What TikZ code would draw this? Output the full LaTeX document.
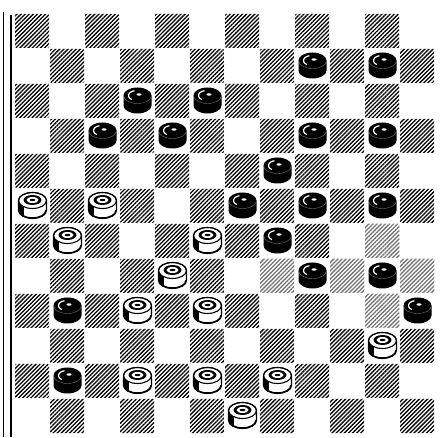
\documentclass[tikz,border=0pt]{standalone}
\usetikzlibrary{patterns.meta}
\tikzset{
    % Board
    darksq/.style  = {rounded corners=1pt, pattern={Lines[angle=45, distance=2.9pt, line width=1.3pt]}, pattern color=black},
    fadedsq/.style = {darksq, pattern color=black!55},
    rim/.style     = {draw=black, line width=1.1pt},
    % Men
    blackman/.pic = {
        \fill[black] (-14,4) -- (-14,-6) arc[start angle=180, end angle=360, x radius=14pt, y radius=8pt]
            -- (14,4) arc[start angle=0, end angle=180, x radius=14pt, y radius=8pt] -- cycle;
        \draw[black!55, line width=0.4pt] (-14,4) arc[start angle=180, end angle=360, x radius=14pt, y radius=8pt];
        \draw[white, line width=1.2pt] ([shift={(-1,4)}]105:8pt and 5pt) arc[start angle=105, end angle=235, x radius=8pt, y radius=5pt];
        \fill[white] (1.5,5) ellipse[x radius=2.5pt, y radius=1.2pt];
    },
    whiteman/.pic = {
        \filldraw[fill=white, rim] (-14,4) -- (-14,-6) arc[start angle=180, end angle=360, x radius=14pt, y radius=8pt]
            -- (14,4) arc[start angle=0, end angle=180, x radius=14pt, y radius=8pt] -- cycle;
        \begin{scope}
            \clip (-14,4) arc[start angle=180, end angle=360, x radius=14pt, y radius=8pt]
                -- (14,-6) arc[start angle=0, end angle=-180, x radius=14pt, y radius=8pt] -- cycle;
            \fill[black] (-15,-15) rectangle (-9,5);
            \draw[black, line width=2.5pt] (-14,-6) arc[start angle=180, end angle=360, x radius=14pt, y radius=8pt];
        \end{scope}
        \draw[rim] (0,4) ellipse[x radius=14pt, y radius=8pt];
        \fill[black] (0,4.5) ellipse[x radius=9pt, y radius=5pt];
        \fill[white] (0,4.5) ellipse[x radius=6pt, y radius=3pt];
        \fill[black] (0,4.5) ellipse[x radius=3pt, y radius=1.2pt];
    }
}

\begin{document}
\begin{tikzpicture}[x=1pt, y=1pt]
    \useasboundingbox (0,0) rectangle (445,437);

    % hatched squares
    \foreach \r in {0,...,11}
        \foreach \c in {0,...,11} {
            \pgfmathtruncatemacro\odd{mod(\r+\c,2)}
            \ifnum\odd=0
                \fill[darksq] ({15+35*\c},{389-35*\r}) rectangle ++(34,34);
            \fi
        }
    % badly printed ones
    \foreach \c/\r in {7/7, 9/7, 11/7, 10/6, 10/8} {
        \fill[white] ({15+35*\c},{389-35*\r}) rectangle ++(34,34);
        \fill[fadedsq] ({15+35*\c},{389-35*\r}) rectangle ++(34,34);
    }

    % left edge of the board
    \draw[line width=0.8pt] (3,0) -- (3,425);
    \draw[line width=1.6pt] (11,0) -- (11,422);

    % black men
    \foreach \c/\r in {8/1, 10/1, 3/2, 5/2, 2/3, 4/3, 8/3, 10/3, 7/4, 6/5, 8/5, 10/5,
                       7/6, 8/7, 10/7, 1/8, 11/8, 1/10}
        \pic at ({32.5+35*\c},{407.5-35*\r}) {blackman};

    % white men
    \foreach \c/\r in {0/5, 2/5, 1/6, 5/6, 4/7, 3/8, 5/8, 10/9, 3/10, 5/10, 7/10, 6/11}
        \pic at ({32.5+35*\c},{407.5-35*\r}) {whiteman};
\end{tikzpicture}
\end{document}
